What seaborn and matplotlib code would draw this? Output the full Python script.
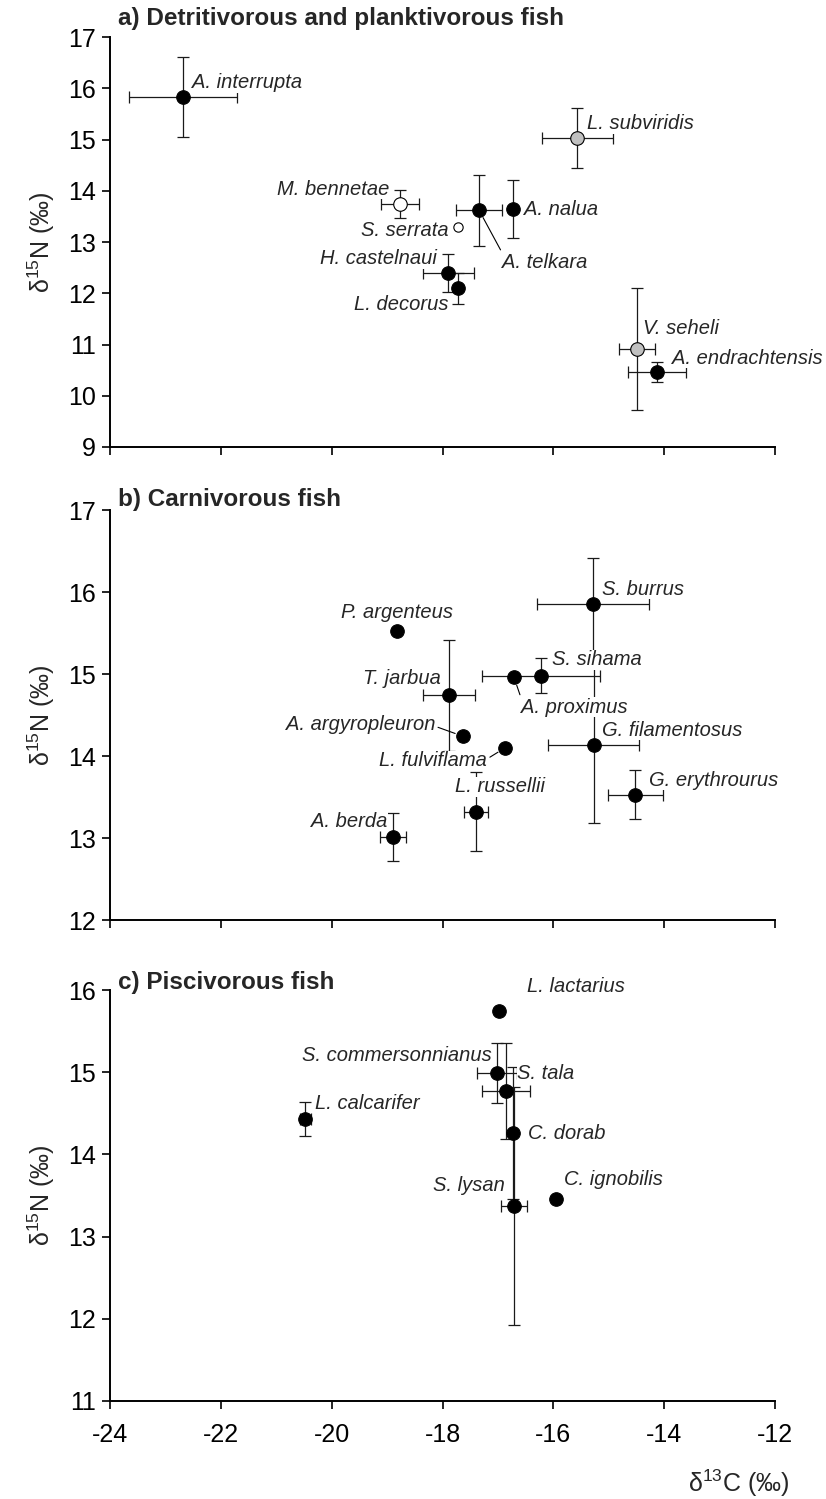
import numpy as np
import pandas as pd
import matplotlib
matplotlib.use("Agg")
import matplotlib.pyplot as plt
import seaborn as sns

# ---------------- data ----------------
# a) detritivorous and planktivorous fish
names_a = ["A. interrupta", "M. bennetae", "S. serrata", "A. telkara", "A. nalua",
           "L. subviridis", "H. castelnaui", "L. decorus", "V. seheli", "A. endrachtensis"]
c13_a = [-22.68, -18.77, -17.72, -17.34, -16.73, -15.57, -17.90, -17.72, -14.49, -14.13]
c13_sd_a = [0.98, 0.34, 0.0, 0.41, 0.0, 0.64, 0.46, 0.0, 0.33, 0.53]
n15_a = [15.83, 13.74, 13.29, 13.62, 13.64, 15.03, 12.40, 12.10, 10.91, 10.46]
n15_sd_a = [0.78, 0.28, 0.0, 0.69, 0.57, 0.58, 0.37, 0.30, 1.19, 0.20]
kind_a = ["filled", "open", "open_small", "filled", "filled",
          "grey", "filled", "filled", "grey", "filled"]

# b) carnivorous fish
names_b = ["P. argenteus", "T. jarbua", "A. argyropleuron", "A. berda", "L. russellii",
           "L. fulviflama", "A. proximus", "S. sihama", "S. burrus", "G. filamentosus",
           "G. erythrourus"]
c13_b = [-18.82, -17.88, -17.63, -18.89, -17.40, -16.87, -16.71, -16.22, -15.28, -15.27, -14.52]
c13_sd_b = [0.0, 0.47, 0.0, 0.23, 0.22, 0.0, 0.0, 1.06, 1.01, 0.82, 0.50]
n15_b = [15.52, 14.74, 14.24, 13.01, 13.32, 14.10, 14.96, 14.98, 15.85, 14.13, 13.53]
n15_sd_b = [0.0, 0.68, 0.0, 0.29, 0.48, 0.0, 0.0, 0.21, 0.57, 0.95, 0.30]
kind_b = ["filled"] * len(names_b)

# c) piscivorous fish
names_c = ["L. calcarifer", "L. lactarius", "S. commersonnianus", "S. tala",
           "C. dorab", "S. lysan", "C. ignobilis"]
c13_c = [-20.48, -16.98, -17.02, -16.85, -16.73, -16.71, -15.95]
c13_sd_c = [0.10, 0.0, 0.36, 0.43, 0.0, 0.23, 0.0]
n15_c = [14.43, 15.74, 14.99, 14.77, 14.26, 13.37, 13.46]
n15_sd_c = [0.21, 0.0, 0.37, 0.58, 0.80, 1.45, 0.0]
kind_c = ["filled"] * len(names_c)

titles = ["a) Detritivorous and planktivorous fish", "b) Carnivorous fish", "c) Piscivorous fish"]
x_ticks = [-24, -22, -20, -18, -16, -14, -12]

# ---------------- label placement ----------------
# (x offset px, y offset px, alignment, leader-line anchor on the text box or None)
lab_a = {
    "A. interrupta": (9, 14, "left", None),
    "M. bennetae": (-10, 15, "right", None),
    "S. serrata": (-9, -3, "right", None),
    "A. telkara": (23, -52, "left", (0.0, 1.0)),
    "A. nalua": (11, 0, "left", None),
    "L. subviridis": (10, 14, "left", None),
    "H. castelnaui": (-11, 14, "right", None),
    "L. decorus": (-10, -16, "right", None),
    "V. seheli": (6, 21, "left", None),
    "A. endrachtensis": (15, 14, "left", None),
}
lab_b = {
    "P. argenteus": (0, 19, "center", None),
    "T. jarbua": (-8, 17, "right", None),
    "A. argyropleuron": (-28, 12, "right", (1.0, 0.4)),
    "A. berda": (-6, 16, "right", None),
    "L. russellii": (-21, 25, "left", None),
    "L. fulviflama": (-18, -13, "right", (1.0, 0.6)),
    "A. proximus": (7, -30, "left", (0.0, 1.0)),
    "S. sihama": (11, 16, "left", None),
    "S. burrus": (9, 15, "left", None),
    "G. filamentosus": (8, 15, "left", None),
    "G. erythrourus": (14, 14, "left", None),
}
lab_c = {
    "L. calcarifer": (10, 16, "left", None),
    "L. lactarius": (28, 25, "left", None),
    "S. commersonnianus": (-5, 18, "right", None),
    "S. tala": (11, 18, "left", None),
    "C. dorab": (15, 0, "left", None),
    "S. lysan": (-9, 21, "right", None),
    "C. ignobilis": (8, 19, "left", None),
}

# ---------------- style ----------------
sns.set_theme(style="ticks")
plt.rcParams["font.family"] = ["Liberation Sans", "DejaVu Sans"]
plt.rcParams["mathtext.default"] = "regular"

fill_pal = {"filled": "black", "open": "white", "open_small": "white", "grey": "#c0c0c0"}
size_map = {"filled": 95, "open": 95, "open_small": 45, "grey": 95}

W, H = 826, 1499
fig = plt.figure(figsize=(W / 100, H / 100), dpi=100)

left, right = 110, 775
panels = [
    dict(top=37, bottom=447, ylim=(9, 17), names=names_a, x=c13_a, xe=c13_sd_a,
         y=n15_a, ye=n15_sd_a, kind=kind_a, labels=lab_a, title_y=18),
    dict(top=510, bottom=920, ylim=(12, 17), names=names_b, x=c13_b, xe=c13_sd_b,
         y=n15_b, ye=n15_sd_b, kind=kind_b, labels=lab_b, title_y=500),
    dict(top=990, bottom=1401, ylim=(11, 16), names=names_c, x=c13_c, xe=c13_sd_c,
         y=n15_c, ye=n15_sd_c, kind=kind_c, labels=lab_c, title_y=982),
]

for i, p in enumerate(panels):
    ax = fig.add_axes([left / W, 1 - p["bottom"] / H, (right - left) / W,
                       (p["bottom"] - p["top"]) / H])
    df = pd.DataFrame({"species": p["names"], "d13C": p["x"], "d13C_sd": p["xe"],
                       "d15N": p["y"], "d15N_sd": p["ye"], "kind": p["kind"]})

    # error bars, horizontal and vertical drawn separately
    dx = df[df["d13C_sd"] > 0]
    ax.errorbar(dx["d13C"], dx["d15N"], xerr=dx["d13C_sd"], fmt="none",
                ecolor="#1a1a1a", elinewidth=0.9, capsize=4.2, capthick=0.9, zorder=2)
    dy = df[df["d15N_sd"] > 0]
    ax.errorbar(dy["d13C"], dy["d15N"], yerr=dy["d15N_sd"], fmt="none",
                ecolor="#1a1a1a", elinewidth=0.9, capsize=4.2, capthick=0.9, zorder=2)

    for kind, sub in df.groupby("kind"):
        sns.scatterplot(data=sub, x="d13C", y="d15N", ax=ax, color=fill_pal[kind],
                        edgecolor="black", linewidth=0.8, s=size_map[kind],
                        zorder=4, legend=False)

    for _, r in df.iterrows():
        ox, oy, ha, anchor = p["labels"][r["species"]]
        kw = dict(xy=(r["d13C"], r["d15N"]), xytext=(ox, oy), textcoords="offset pixels",
                  ha=ha, va="center", fontsize=14.5, style="italic", zorder=5,
                  bbox=dict(facecolor="white", edgecolor="none", pad=0.3))
        if anchor is not None:
            kw["arrowprops"] = dict(arrowstyle="-", lw=0.8, color="black",
                                    relpos=anchor, shrinkA=2, shrinkB=6)
        ax.annotate(r["species"], **kw)

    ax.set_xlim(-24, -12)
    ax.set_ylim(*p["ylim"])
    ax.set_xticks(x_ticks)
    ax.set_yticks(np.arange(p["ylim"][0], p["ylim"][1] + 1))
    ax.spines[["top", "right"]].set_visible(False)
    for s in ("left", "bottom"):
        ax.spines[s].set_linewidth(1.4)
        ax.spines[s].set_color("black")
    ax.tick_params(axis="both", direction="out", length=6, width=1.2, colors="black",
                   labelsize=18, pad=4)
    ax.tick_params(axis="x", pad=10)
    ax.set_xlabel("")
    ax.set_ylabel("δ$^{15}$N (‰)", fontsize=18, labelpad=8)
    if i < 2:
        ax.set_xticklabels([])
    else:
        ax.set_xticklabels([str(t) for t in x_ticks])
    fig.text(118 / W, 1 - p["title_y"] / H, titles[i], fontsize=17.5, fontweight="bold",
             ha="left", va="center")

fig.text(790 / W, 1 - 1483 / H, "δ$^{13}$C (‰)", fontsize=18, ha="right", va="center")

fig.savefig("out.png", dpi=100)
